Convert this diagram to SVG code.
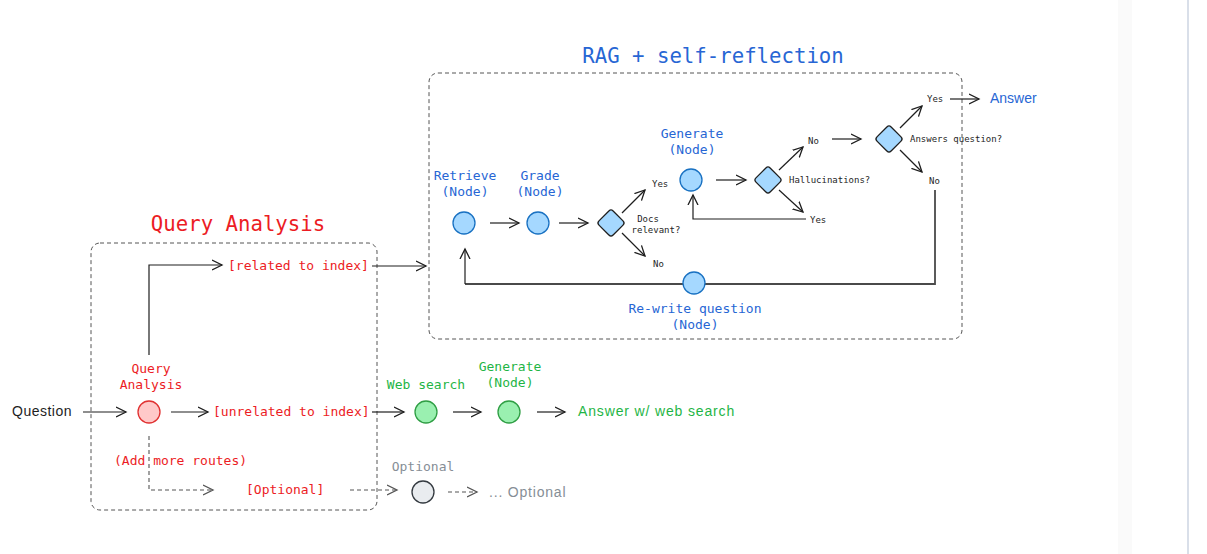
<svg xmlns="http://www.w3.org/2000/svg" width="1207" height="554" viewBox="0 0 1207 554">
<defs>
<marker id="ah" markerWidth="12" markerHeight="12" refX="10" refY="5" orient="auto" markerUnits="userSpaceOnUse" viewBox="0 0 12 10">
<path d="M0,0 L10,5 L0,10" fill="none" stroke="#1e1e1e" stroke-width="1.3"/>
</marker>
<marker id="ahg" markerWidth="12" markerHeight="12" refX="10" refY="5" orient="auto" markerUnits="userSpaceOnUse" viewBox="0 0 12 10">
<path d="M0,0 L10,5 L0,10" fill="none" stroke="#555" stroke-width="1.3"/>
</marker>
</defs>
<style>
.mono{font-family:"DejaVu Sans Mono","Liberation Mono",monospace}
.hand{font-family:"Liberation Sans","DejaVu Sans",sans-serif;font-size:14px}
.title{font-size:20.7px;font-weight:500}
.lbl{font-size:13px}
.sm{font-size:9px;fill:#1e1e1e}
.blue{fill:#2766d4}
.red{fill:#ec1c24}
.green{fill:#1fb546}
.gray{fill:#868e96}
.box{fill:none;stroke:#555;stroke-width:1;stroke-dasharray:4 3}
.c{stroke:#1e1e1e;stroke-width:1.2;fill:none}
.cd{stroke:#555;stroke-width:1.1;fill:none;stroke-dasharray:4 3}
.loop{stroke:#4a4a4a;stroke-width:1.8;fill:none}
.nb{fill:#a5d8ff;stroke:#1971c2;stroke-width:1.3}
.nd{fill:#a5d8ff;stroke:#1e1e1e;stroke-width:1.3}
.ng{fill:#9af0b0;stroke:#2f9e44;stroke-width:1.3}
.nr{fill:#ffc9c9;stroke:#e03131;stroke-width:1.3}
.nx{fill:#e9ecef;stroke:#343a40;stroke-width:1.3}
</style>
<rect x="0" y="0" width="1207" height="554" fill="#ffffff"/>
<rect x="1118" y="0" width="14" height="554" fill="#fafafa"/>
<line x1="1188" y1="0" x2="1188" y2="554" stroke="#cdd5e2" stroke-width="1.5"/>

<g id="rag-group">
<rect class="box" x="429" y="73" width="533" height="266" rx="9"/>
<text class="mono title blue" x="713" y="63" text-anchor="middle">RAG + self-reflection</text>
</g>
<g id="qa-group">
<rect class="box" x="91" y="243" width="286" height="267" rx="9"/>
<text class="mono title red" x="238" y="231" text-anchor="middle">Query Analysis</text>
</g>

<g id="connectors">
<line class="c" x1="83" y1="412" x2="126" y2="412" marker-end="url(#ah)"/>
<polyline class="c" points="149,355 149,265 222,265" marker-end="url(#ah)"/>
<line class="c" x1="372" y1="266" x2="426" y2="266" marker-end="url(#ah)"/>
<line class="c" x1="171" y1="412" x2="208" y2="412" marker-end="url(#ah)"/>
<line class="c" x1="372" y1="412" x2="404" y2="412" marker-end="url(#ah)"/>
<line class="c" x1="453" y1="412" x2="481" y2="412" marker-end="url(#ah)"/>
<line class="c" x1="537" y1="412" x2="565" y2="412" marker-end="url(#ah)"/>
<polyline class="cd" points="149,436 149,490 213,490" marker-end="url(#ahg)"/>
<line class="cd" x1="350" y1="490" x2="397" y2="490" marker-end="url(#ahg)"/>
<line class="cd" x1="448" y1="492" x2="477" y2="492" marker-end="url(#ahg)"/>

<line class="c" x1="490" y1="223" x2="519" y2="223" marker-end="url(#ah)"/>
<line class="c" x1="559" y1="223" x2="588" y2="223" marker-end="url(#ah)"/>
<line class="c" x1="622" y1="213" x2="645" y2="190" marker-end="url(#ah)"/>
<line class="c" x1="622" y1="233" x2="645" y2="256" marker-end="url(#ah)"/>
<line class="c" x1="716" y1="180" x2="746" y2="180" marker-end="url(#ah)"/>
<line class="c" x1="779" y1="170" x2="803" y2="147" marker-end="url(#ah)"/>
<line class="c" x1="779" y1="190" x2="803" y2="212" marker-end="url(#ah)"/>
<polyline class="c" points="806,219 693,219 693,195" marker-end="url(#ah)"/>
<line class="c" x1="832" y1="139" x2="861" y2="139" marker-end="url(#ah)"/>
<line class="c" x1="900" y1="128" x2="922" y2="106" marker-end="url(#ah)"/>
<line class="c" x1="900" y1="150" x2="922" y2="172" marker-end="url(#ah)"/>
<line class="c" x1="950" y1="99" x2="979" y2="99" marker-end="url(#ah)"/>
<polyline class="loop" points="935,190 935,284 465,284"/>
<line class="c" x1="465" y1="284" x2="465" y2="249" marker-end="url(#ah)"/>
</g>

<g id="question"><text class="hand" x="12" y="416" fill="#1e1e1e" letter-spacing="0.5">Question</text></g>

<g id="query-analysis">
<circle class="nr" cx="149" cy="412" r="11"/>
<text class="mono lbl red" x="151" y="373" text-anchor="middle">Query</text>
<text class="mono lbl red" x="151" y="389" text-anchor="middle">Analysis</text>
</g>
<g id="related"><text class="mono lbl red" x="228" y="270">[related to index]</text></g>
<g id="unrelated"><text class="mono lbl red" x="213" y="416">[unrelated to index]</text></g>
<g id="add-routes"><text class="mono lbl red" x="114" y="465">(Add more routes)</text></g>
<g id="optional-route"><text class="mono lbl red" x="246" y="494">[Optional]</text></g>

<g id="web-search">
<circle class="ng" cx="426" cy="412" r="11"/>
<text class="mono lbl green" x="426" y="389" text-anchor="middle">Web search</text>
</g>
<g id="generate-web">
<circle class="ng" cx="509" cy="412" r="11"/>
<text class="mono lbl green" x="510" y="371" text-anchor="middle">Generate</text>
<text class="mono lbl green" x="510" y="387" text-anchor="middle">(Node)</text>
</g>
<g id="answer-web"><text class="hand green" x="578" y="416" letter-spacing="0.85">Answer w/ web search</text></g>

<g id="optional-node">
<circle class="nx" cx="423" cy="492" r="11"/>
<text class="mono lbl gray" x="423" y="471" text-anchor="middle">Optional</text>
</g>
<g id="optional-end"><text class="hand gray" x="489" y="497" letter-spacing="0.8">... Optional</text></g>

<g id="retrieve">
<circle class="nb" cx="464" cy="223" r="11"/>
<text class="mono lbl blue" x="465" y="180" text-anchor="middle">Retrieve</text>
<text class="mono lbl blue" x="465" y="196" text-anchor="middle">(Node)</text>
</g>
<g id="grade">
<circle class="nb" cx="538" cy="223" r="11"/>
<text class="mono lbl blue" x="540" y="180" text-anchor="middle">Grade</text>
<text class="mono lbl blue" x="540" y="196" text-anchor="middle">(Node)</text>
</g>
<g id="docs-relevant">
<rect class="nd" x="601" y="213" width="20" height="20" rx="3" transform="rotate(45 611 223)"/>
<text class="mono sm" x="648" y="222" text-anchor="middle">Docs</text>
<text class="mono sm" x="656" y="233" text-anchor="middle">relevant?</text>
<text class="mono sm" x="652" y="187">Yes</text>
<text class="mono sm" x="653" y="267">No</text>
</g>
<g id="generate">
<circle class="nb" cx="691" cy="180" r="11"/>
<text class="mono lbl blue" x="692" y="138" text-anchor="middle">Generate</text>
<text class="mono lbl blue" x="692" y="154" text-anchor="middle">(Node)</text>
</g>
<g id="hallucinations">
<rect class="nd" x="758" y="170" width="20" height="20" rx="3" transform="rotate(45 768 180)"/>
<text class="mono sm" x="789" y="183">Hallucinations?</text>
<text class="mono sm" x="808" y="144">No</text>
<text class="mono sm" x="810" y="223">Yes</text>
</g>
<g id="answers-question">
<rect class="nd" x="879" y="129" width="20" height="20" rx="3" transform="rotate(45 889 139)"/>
<text class="mono sm" x="910" y="142">Answers question?</text>
<text class="mono sm" x="927" y="102">Yes</text>
<text class="mono sm" x="929" y="184">No</text>
</g>
<g id="answer"><text class="hand blue" x="990" y="103">Answer</text></g>
<g id="rewrite">
<circle class="nb" cx="694" cy="283" r="11"/>
<text class="mono lbl blue" x="695" y="313" text-anchor="middle">Re-write question</text>
<text class="mono lbl blue" x="695" y="329" text-anchor="middle">(Node)</text>
</g>
</svg>
